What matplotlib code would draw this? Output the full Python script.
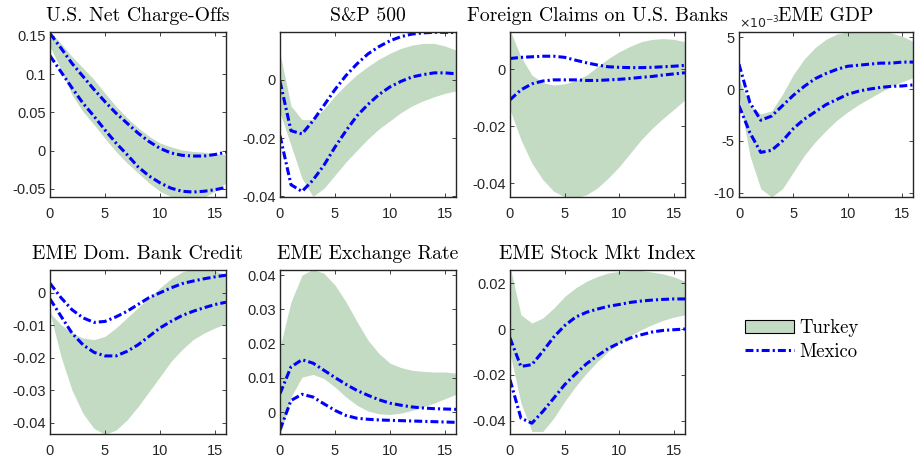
import numpy as np
import matplotlib
matplotlib.use('Agg')
import matplotlib.pyplot as plt
from matplotlib.ticker import FuncFormatter
from matplotlib.patches import Patch
from matplotlib.lines import Line2D

plt.rcParams['axes.unicode_minus'] = False

h = np.arange(17)

# Turkey bands (lo/hi) and Mexico bands (two dash-dot lines), one set per variable
chg_tr_hi = [0.156, 0.140, 0.123, 0.108, 0.093, 0.075, 0.058, 0.043, 0.030, 0.019, 0.010, 0.005, 0.001, -0.001, -0.002, -0.004, -0.005]
chg_tr_lo = [0.136, 0.106, 0.073, 0.051, 0.034, 0.016, -0.001, -0.016, -0.029, -0.042, -0.053, -0.060, -0.063, -0.063, -0.061, -0.053, -0.042]
chg_mx_hi = [0.153, 0.134, 0.114, 0.097, 0.080, 0.064, 0.049, 0.036, 0.023, 0.012, 0.003, -0.003, -0.006, -0.007, -0.007, -0.005, -0.002]
chg_mx_lo = [0.124, 0.103, 0.082, 0.062, 0.045, 0.027, 0.010, -0.005, -0.021, -0.033, -0.042, -0.049, -0.053, -0.054, -0.053, -0.051, -0.048]

sp_tr_hi = [0.009, -0.009, -0.0137, -0.0137, -0.010, -0.0056, -0.0017, 0.0017, 0.0045, 0.007, 0.009, 0.0107, 0.0118, 0.0124, 0.0124, 0.0115, 0.0101]
sp_tr_lo = [-0.0113, -0.0225, -0.0338, -0.040, -0.0372, -0.0327, -0.0282, -0.0242, -0.0203, -0.0169, -0.0141, -0.0113, -0.009, -0.0073, -0.0059, -0.0047, -0.0039]
sp_mx_hi = [-0.0006, -0.0175, -0.0186, -0.0141, -0.0088, -0.0034, 0.0014, 0.0054, 0.0088, 0.0113, 0.0133, 0.0147, 0.0156, 0.016, 0.0162, 0.0162, 0.0161]
sp_mx_lo = [-0.0192, -0.036, -0.0383, -0.0344, -0.0293, -0.0231, -0.0175, -0.0124, -0.0085, -0.0051, -0.0025, -0.0006, 0.0009, 0.0017, 0.0023, 0.0023, 0.002]

fc_tr_hi = [0.0136, 0.0043, -0.0021, -0.0048, -0.0056, -0.0052, -0.0041, -0.0021, 0.0008, 0.0037, 0.0061, 0.008, 0.0096, 0.0104, 0.0107, 0.0104, 0.0096]
fc_tr_lo = [-0.0143, -0.0248, -0.033, -0.0388, -0.0429, -0.0449, -0.0452, -0.0441, -0.0417, -0.0382, -0.0342, -0.0295, -0.0248, -0.0208, -0.0173, -0.0141, -0.0108]
fc_mx_hi = [0.0037, 0.0041, 0.0043, 0.0045, 0.0045, 0.0041, 0.0031, 0.0022, 0.0014, 0.0008, 0.0006, 0.0005, 0.0005, 0.0006, 0.0008, 0.001, 0.0013]
fc_mx_lo = [-0.0108, -0.0073, -0.0052, -0.0042, -0.0038, -0.0038, -0.0038, -0.004, -0.004, -0.0038, -0.0036, -0.0033, -0.0029, -0.0026, -0.0021, -0.0017, -0.0013]

# GDP in units of 1e-3
gdp_tr_hi = [1.0, -1.6, -2.4, -2.1, -0.5, 1.4, 2.9, 4.0, 4.8, 5.3, 5.5, 5.7, 5.7, 5.6, 5.4, 5.1, 4.6]
gdp_tr_lo = [-0.6, -6.4, -9.6, -10.4, -9.6, -8.0, -6.4, -5.1, -4.0, -3.0, -2.2, -1.5, -0.9, -0.3, 0.26, 0.7, 1.1]
gdp_mx_hi = [2.4, -1.3, -3.0, -2.6, -1.6, -0.6, 0.26, 1.0, 1.5, 1.9, 2.2, 2.3, 2.4, 2.5, 2.5, 2.6, 2.6]
gdp_mx_lo = [-1.6, -4.2, -6.1, -5.9, -5.0, -3.8, -2.9, -2.2, -1.5, -1.0, -0.5, -0.2, 0.0, 0.16, 0.26, 0.3, 0.4]

cr_tr_hi = [-0.0062, -0.0098, -0.0124, -0.0139, -0.0144, -0.0134, -0.0108, -0.0077, -0.0046, -0.0015, 0.0015, 0.0043, 0.0064, 0.0074, 0.0074, 0.0067, 0.0057]
cr_tr_lo = [-0.0062, -0.0196, -0.0299, -0.0371, -0.0417, -0.0435, -0.0422, -0.0391, -0.035, -0.0304, -0.0258, -0.0211, -0.0175, -0.0144, -0.0124, -0.0108, -0.0095]
cr_mx_hi = [0.0029, -0.0015, -0.0052, -0.0077, -0.0091, -0.0088, -0.0074, -0.0057, -0.0036, -0.0015, 0.0, 0.0015, 0.0028, 0.0036, 0.0043, 0.0049, 0.0054]
cr_mx_lo = [-0.0019, -0.0072, -0.0124, -0.016, -0.0183, -0.0194, -0.0194, -0.018, -0.016, -0.0134, -0.0108, -0.0088, -0.007, -0.0057, -0.0046, -0.0036, -0.0029]

fx_tr_hi = [0.019, 0.0322, 0.040, 0.0417, 0.0405, 0.0371, 0.0322, 0.0264, 0.021, 0.0171, 0.0143, 0.013, 0.0122, 0.0119, 0.0117, 0.0117, 0.0114]
fx_tr_lo = [-0.0068, 0.0044, 0.0102, 0.011, 0.0098, 0.0073, 0.0044, 0.002, 0.0003, -0.0005, -0.0007, -0.0003, 0.0005, 0.0015, 0.0026, 0.0039, 0.0052]
fx_mx_hi = [0.0054, 0.0132, 0.0153, 0.0143, 0.0122, 0.0101, 0.0081, 0.0063, 0.0049, 0.0036, 0.0026, 0.002, 0.0015, 0.0012, 0.001, 0.0009, 0.0008]
fx_mx_lo = [-0.0052, 0.0034, 0.0052, 0.0044, 0.0024, 0.0005, -0.001, -0.0018, -0.0021, -0.0023, -0.0024, -0.0025, -0.0026, -0.0027, -0.0028, -0.0029, -0.003]

stk_tr_hi = [0.0273, 0.0062, 0.0026, 0.0048, 0.0091, 0.0142, 0.0179, 0.0208, 0.0229, 0.0244, 0.0251, 0.0254, 0.0254, 0.0248, 0.024, 0.0227, 0.0208]
stk_tr_lo = [-0.0105, -0.0322, -0.0446, -0.0446, -0.0388, -0.0315, -0.025, -0.0192, -0.0141, -0.0097, -0.0061, -0.0029, -0.0003, 0.0019, 0.0038, 0.0052, 0.0062]
stk_mx_hi = [-0.0039, -0.0163, -0.0155, -0.0097, -0.0035, 0.0015, 0.0052, 0.0073, 0.0087, 0.0099, 0.0107, 0.0116, 0.0122, 0.0126, 0.0129, 0.0131, 0.0131]
stk_mx_lo = [-0.0221, -0.0388, -0.041, -0.0359, -0.0301, -0.0242, -0.0195, -0.0151, -0.0116, -0.0084, -0.0061, -0.0039, -0.0025, -0.0013, -0.0006, -0.0003, 0.0]

titles = ['U.S. Net Charge-Offs', 'S&P 500', 'Foreign Claims on U.S. Banks', 'EME GDP',
          'EME Dom. Bank Credit', 'EME Exchange Rate', 'EME Stock Mkt Index']

band_col = '#c3dbc3'
line_col = '#0000ff'
serif = ['cmr10', 'DejaVu Serif']
dash = (2.6, 1.0, 0.7, 1.0)

W, H = 915, 463
fig = plt.figure(figsize=(W / 100, H / 100), dpi=100)


def panel(px, title, tr_lo, tr_hi, mx_lo, mx_hi, ylim, yticks):
    l, t, r, b = px
    ax = fig.add_axes([l / W, 1 - b / H, (r - l) / W, (b - t) / H])
    ax.fill_between(h, tr_lo, tr_hi, color=band_col, lw=0)
    for y in (mx_hi, mx_lo):
        ax.plot(h, y, color=line_col, lw=2.2, dashes=dash)
    ax.set_xlim(0, 16)
    ax.set_ylim(*ylim)
    ax.set_xticks([0, 5, 10, 15])
    ax.set_yticks(yticks)
    ax.yaxis.set_major_formatter(FuncFormatter(lambda v, p: '%g' % round(v, 6)))
    ax.tick_params(direction='in', top=True, right=True, length=3, width=0.6,
                   labelsize=10.5, colors='#262626')
    ax.tick_params(axis='x', pad=7)
    ax.tick_params(axis='y', pad=3)
    for lab in ax.get_xticklabels() + ax.get_yticklabels():
        lab.set_family('Liberation Sans')
    for s in ax.spines.values():
        s.set_linewidth(1.0)
        s.set_color('#262626')
    ax.set_title(title, fontsize=14.2, family=serif, pad=8)
    return ax


panel((50, 32, 226, 197), titles[0], chg_tr_lo, chg_tr_hi, chg_mx_lo, chg_mx_hi,
      (-0.0605, 0.155), [-0.05, 0, 0.05, 0.1, 0.15])
panel((280, 32, 456, 197), titles[1], sp_tr_lo, sp_tr_hi, sp_mx_lo, sp_mx_hi,
      (-0.0402, 0.0163), [-0.04, -0.02, 0])
panel((510, 32, 685, 197), titles[2], fc_tr_lo, fc_tr_hi, fc_mx_lo, fc_mx_hi,
      (-0.0449, 0.013), [-0.04, -0.02, 0])
ax4 = panel((739, 32, 913, 197), titles[3], gdp_tr_lo, gdp_tr_hi, gdp_mx_lo, gdp_mx_hi,
            (-10.4, 5.5), [-10, -5, 0, 5])
# scale factor for the GDP axis, sitting just above the top-left corner
ax4.text(0, 1.005, r'$\times10^{-3}$', transform=ax4.transAxes, fontsize=9,
         family='Liberation Sans', color='#262626', va='bottom', ha='left')
panel((50, 270, 226, 434), titles[4], cr_tr_lo, cr_tr_hi, cr_mx_lo, cr_mx_hi,
      (-0.0434, 0.007), [-0.04, -0.03, -0.02, -0.01, 0])
panel((280, 270, 456, 434), titles[5], fx_tr_lo, fx_tr_hi, fx_mx_lo, fx_mx_hi,
      (-0.0064, 0.0415), [0, 0.01, 0.02, 0.03, 0.04])
panel((510, 270, 685, 434), titles[6], stk_tr_lo, stk_tr_hi, stk_mx_lo, stk_mx_hi,
      (-0.0457, 0.0257), [-0.04, -0.02, 0, 0.02])

handles = [Patch(facecolor=band_col, edgecolor='black', lw=0.8),
           Line2D([], [], color=line_col, lw=2.2, dashes=dash)]
fig.legend(handles, ['Turkey', 'Mexico'], loc='center left', bbox_to_anchor=(728 / W, 1 - 340 / H),
           frameon=False, prop={'family': serif, 'size': 13.5}, handlelength=2.6,
           handletextpad=0.3, labelspacing=0.3)

fig.savefig('out.png', dpi=100)
